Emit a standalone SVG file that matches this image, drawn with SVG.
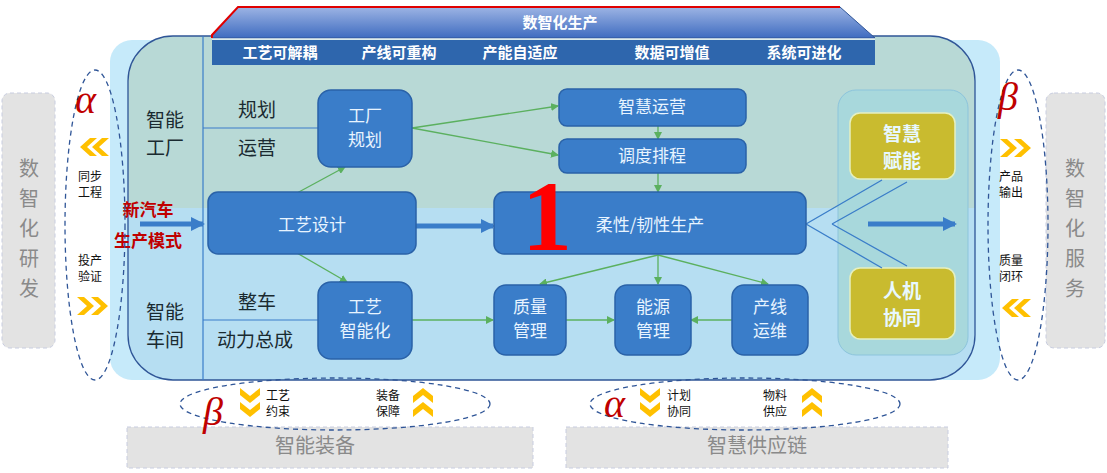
<svg xmlns="http://www.w3.org/2000/svg" width="1107" height="473" viewBox="0 0 1107 473">
<defs>
<style>
.cn{font-family:"Noto Sans CJK SC","Noto Sans",sans-serif}
.box{fill:#3a7dc9;stroke:#2a62a8;stroke-width:1.5}
.bt{fill:#e8f4ff;font-size:17px;text-anchor:middle}
.lab{fill:#1a2a30;font-size:19px;text-anchor:middle}
.sm{fill:#111;font-size:12px}
.gray{fill:#e3e3e3;stroke:#c8cde0;stroke-dasharray:4 3}
.gt{fill:#8a8a8a;font-size:20px;text-anchor:middle}
.ell{fill:none;stroke:#2f5597;stroke-width:1.3;stroke-dasharray:5 4}
.g{stroke:#5bb05f;stroke-width:1.3;fill:none;marker-end:url(#ga)}
.chev{fill:#ffc000}
.gr{font-family:"Liberation Serif",serif;font-style:italic;fill:#c00000;font-size:40px}
.gold{fill:#c9bb2f;stroke:#e6f0c0;stroke-width:1.5}
.gw{fill:#e8f8ff;font-size:19px;font-weight:bold;text-anchor:middle}
.hd{fill:#fff;font-size:15px;font-weight:bold;text-anchor:middle}
</style>
<marker id="ga" markerWidth="8" markerHeight="8" refX="7" refY="4" orient="auto" markerUnits="userSpaceOnUse"><path d="M0,0 L8,4 L0,8 z" fill="#5bb05f"/></marker>
<marker id="ba" markerWidth="14" markerHeight="14" refX="12" refY="7" orient="auto" markerUnits="userSpaceOnUse"><path d="M0,0 L14,7 L0,14 z" fill="#3a7dc9"/></marker>
<linearGradient id="tg" x1="0" y1="0" x2="0" y2="1"><stop offset="0" stop-color="#9db4e4"/><stop offset="1" stop-color="#3f6cc0"/></linearGradient>
<clipPath id="ic"><path d="M173,36 H930 A45,45 0 0 1 975,81 V335 A45,45 0 0 1 930,380 H173 A45,45 0 0 1 128,335 V81 A45,45 0 0 1 173,36 Z"/></clipPath>
</defs>
<g id="side-left"><rect class="gray" x="2" y="93" width="53" height="255" rx="8"/>
<text class="cn gt" x="29" y="176">数</text><text class="cn gt" x="29" y="206">智</text><text class="cn gt" x="29" y="236">化</text><text class="cn gt" x="29" y="266">研</text><text class="cn gt" x="29" y="296">发</text></g>
<g id="side-right"><rect class="gray" x="1046" y="93" width="59" height="255" rx="8"/>
<text class="cn gt" x="1075" y="176">数</text><text class="cn gt" x="1075" y="206">智</text><text class="cn gt" x="1075" y="236">化</text><text class="cn gt" x="1075" y="266">服</text><text class="cn gt" x="1075" y="296">务</text></g>
<g id="frame">
<rect x="110" y="40" width="890" height="340" rx="22" fill="#c6eafa"/>
<g clip-path="url(#ic)"><rect x="128" y="36" width="850" height="172" fill="#b8d9d6"/><rect x="128" y="208" width="850" height="175" fill="#b6def2"/></g>
<path d="M173,36 H930 A45,45 0 0 1 975,81 V335 A45,45 0 0 1 930,380 H173 A45,45 0 0 1 128,335 V81 A45,45 0 0 1 173,36 Z" fill="none" stroke="#2f5597" stroke-width="1.3"/>
<line x1="203" y1="36" x2="203" y2="380" stroke="#3a7dc9" stroke-width="1.2"/>
</g>
<g id="banner">
<path d="M212,35 L238,7 H840 L875,38 H212 Z" fill="url(#tg)" stroke="#2f5597"/>
<path d="M212,38 V35 L238,7 H840" fill="none" stroke="#e00000" stroke-width="2"/>
<line x1="212" y1="39" x2="875" y2="39" stroke="#fff" stroke-width="1"/>
<rect x="212" y="40" width="663" height="25" fill="#2e66ad"/>
<text class="cn hd" x="560" y="28" font-size="20">数智化生产</text>
<text class="cn hd" x="280" y="58">工艺可解耦</text><text class="cn hd" x="399" y="58">产线可重构</text><text class="cn hd" x="520" y="58">产能自适应</text><text class="cn hd" x="672" y="58">数据可增值</text><text class="cn hd" x="804" y="58">系统可进化</text>
</g>
<g id="rows">
<text class="cn lab" x="165" y="127">智能</text><text class="cn lab" x="165" y="155">工厂</text>
<text class="cn lab" x="257" y="117">规划</text><text class="cn lab" x="257" y="155">运营</text>
<line x1="203" y1="128" x2="318" y2="128" stroke="#3a7dc9" stroke-width="1.2"/>
<text class="cn lab" x="165" y="319">智能</text><text class="cn lab" x="165" y="347">车间</text>
<text class="cn lab" x="257" y="309">整车</text><text class="cn lab" x="255" y="347">动力总成</text>
<line x1="203" y1="320" x2="318" y2="320" stroke="#3a7dc9" stroke-width="1.2"/>
</g>
<g id="panel"><rect x="838" y="90" width="130" height="265" rx="18" fill="#a8d8dc" stroke="#8cc4dc"/>
<rect class="gold" x="850" y="113" width="105" height="66" rx="10"/><text class="cn gw" x="902" y="141">智慧</text><text class="cn gw" x="902" y="168">赋能</text>
<rect class="gold" x="850" y="268" width="105" height="71" rx="10"/><text class="cn gw" x="902" y="298">人机</text><text class="cn gw" x="902" y="325">协同</text></g>
<g id="connectors">
<line class="g" x1="412" y1="128" x2="558" y2="106"/>
<line class="g" x1="412" y1="128" x2="558" y2="155"/>
<line class="g" x1="297" y1="193" x2="345" y2="167"/>
<line class="g" x1="658" y1="126" x2="658" y2="139"/>
<line class="g" x1="658" y1="172" x2="658" y2="192"/>
<line class="g" x1="297" y1="253" x2="347" y2="282"/>
<line class="g" x1="412" y1="320" x2="493" y2="320"/>
<line class="g" x1="658" y1="255" x2="540" y2="284"/>
<line class="g" x1="658" y1="255" x2="658" y2="284"/>
<line class="g" x1="658" y1="255" x2="768" y2="284"/>
<line class="g" x1="566" y1="320" x2="614" y2="320"/>
<line class="g" x1="732" y1="320" x2="691" y2="320"/>
<line x1="140" y1="224" x2="203" y2="224" stroke="#3a7dc9" stroke-width="5" marker-end="url(#ba)"/>
<line x1="416" y1="226" x2="493" y2="226" stroke="#3a7dc9" stroke-width="5" marker-end="url(#ba)"/>
<path d="M806,224 L882,180 M832,224 L907,182 M806,224 L882,268 M832,224 L907,266" stroke="#3a7dc9" stroke-width="1.3" fill="none"/>
<line x1="868" y1="224" x2="955" y2="224" stroke="#3a7dc9" stroke-width="5" marker-end="url(#ba)"/>
</g>
<g id="n-gcgh"><rect class="box" x="318" y="90" width="94" height="77" rx="13"/><text class="cn bt" x="365" y="122">工厂</text><text class="cn bt" x="365" y="146">规划</text></g>
<g id="n-zhyy"><rect class="box" x="559" y="89" width="187" height="37" rx="8"/><text class="cn bt" x="652" y="113">智慧运营</text></g>
<g id="n-ddpc"><rect class="box" x="559" y="139" width="187" height="34" rx="8"/><text class="cn bt" x="652" y="162">调度排程</text></g>
<g id="n-gysj"><rect class="box" x="208" y="192" width="208" height="62" rx="10"/><text class="cn bt" x="312" y="231" font-size="19">工艺设计</text></g>
<g id="n-rx"><rect class="box" x="494" y="192" width="312" height="62" rx="10"/><text class="cn bt" x="650" y="231" font-size="19">柔性/韧性生产</text></g>
<text x="547" y="250" font-family="Liberation Serif,serif" font-size="100" font-weight="bold" fill="#ff0000" text-anchor="middle">1</text>
<g id="n-gyznh"><rect class="box" x="318" y="282" width="94" height="77" rx="13"/><text class="cn bt" x="365" y="313">工艺</text><text class="cn bt" x="365" y="337">智能化</text></g>
<g id="n-zl"><rect class="box" x="494" y="285" width="72" height="70" rx="12"/><text class="cn bt" x="530" y="313">质量</text><text class="cn bt" x="530" y="337">管理</text></g>
<g id="n-ny"><rect class="box" x="615" y="285" width="76" height="70" rx="12"/><text class="cn bt" x="653" y="313">能源</text><text class="cn bt" x="653" y="337">管理</text></g>
<g id="n-cx"><rect class="box" x="732" y="285" width="76" height="70" rx="12"/><text class="cn bt" x="770" y="313">产线</text><text class="cn bt" x="770" y="337">运维</text></g>
<text class="cn" x="148" y="216" font-size="17" font-weight="bold" fill="#c00000" text-anchor="middle">新汽车</text>
<text class="cn" x="148" y="247" font-size="17" font-weight="bold" fill="#c00000" text-anchor="middle">生产模式</text>
<g id="loop-left"><ellipse class="ell" cx="95" cy="225" rx="30" ry="155"/>
<text class="gr" x="75" y="113">α</text>
<path class="chev" d="M90,138 L80,147 L90,156 L97,156 L87,147 L97,138 Z M102,138 L92,147 L102,156 L109,156 L99,147 L109,138 Z"/>
<text class="cn sm" x="78" y="181">同步</text><text class="cn sm" x="78" y="197">工程</text>
<text class="cn sm" x="78" y="265">投产</text><text class="cn sm" x="78" y="281">验证</text>
<path class="chev" d="M77,297 L87,306 L77,315 L84,315 L94,306 L84,297 Z M91,297 L101,306 L91,315 L98,315 L108,306 L98,297 Z"/></g>
<g id="loop-right"><ellipse class="ell" cx="1018" cy="225" rx="30" ry="155"/>
<text class="gr" x="998" y="110">β</text>
<path class="chev" d="M1000,139 L1010,148 L1000,157 L1007,157 L1017,148 L1007,139 Z M1014,139 L1024,148 L1014,157 L1021,157 L1031,148 L1021,139 Z"/>
<text class="cn sm" x="999" y="181">产品</text><text class="cn sm" x="999" y="197">输出</text>
<text class="cn sm" x="999" y="265">质量</text><text class="cn sm" x="999" y="281">闭环</text>
<path class="chev" d="M1012,299 L1002,308 L1012,317 L1019,317 L1009,308 L1019,299 Z M1024,299 L1014,308 L1024,317 L1031,317 L1021,308 L1031,299 Z"/></g>
<g id="equip"><rect class="gray" x="127" y="427" width="406" height="41"/><text class="cn gt" x="315" y="453">智能装备</text>
<ellipse class="ell" cx="335" cy="404" rx="155" ry="26"/>
<text class="gr" x="203" y="425">β</text>
<path class="chev" d="M240,388 L250,396 L260,388 L260,395 L250,403 L240,395 Z M240,402 L250,410 L260,402 L260,409 L250,417 L240,409 Z"/>
<text class="cn sm" x="266" y="400">工艺</text><text class="cn sm" x="266" y="416">约束</text>
<text class="cn sm" x="376" y="400">装备</text><text class="cn sm" x="376" y="416">保障</text>
<path class="chev" d="M413,396 L423,388 L433,396 L433,403 L423,395 L413,403 Z M413,410 L423,402 L433,410 L433,417 L423,409 L413,417 Z"/></g>
<g id="supply"><rect class="gray" x="566" y="427" width="382" height="41"/><text class="cn gt" x="757" y="453">智慧供应链</text>
<ellipse class="ell" cx="745" cy="404" rx="155" ry="26"/>
<text class="gr" x="604" y="417">α</text>
<path class="chev" d="M640,388 L650,396 L660,388 L660,395 L650,403 L640,395 Z M640,402 L650,410 L660,402 L660,409 L650,417 L640,409 Z"/>
<text class="cn sm" x="667" y="400">计划</text><text class="cn sm" x="667" y="416">协同</text>
<text class="cn sm" x="763" y="400">物料</text><text class="cn sm" x="763" y="416">供应</text>
<path class="chev" d="M802,396 L812,388 L822,396 L822,403 L812,395 L802,403 Z M802,410 L812,402 L822,410 L822,417 L812,409 L802,417 Z"/></g>
</svg>
